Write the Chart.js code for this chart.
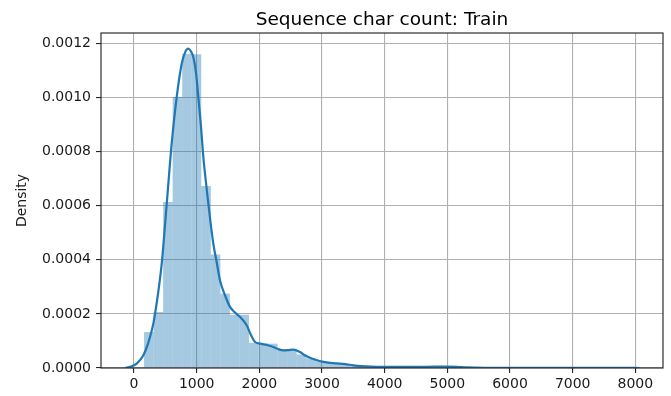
<!DOCTYPE html>
<html>
<head>
<meta charset="utf-8">
<script src="https://cdn.jsdelivr.net/npm/chart.js@4"></script>
<style>
  html, body { margin: 0; padding: 0; background: #ffffff; }
  canvas { display: block; }
</style>
</head>
<body>
<canvas id="c" width="671" height="396"></canvas>
<script>
// ---- data ----
const chartTitle = "Sequence char count: Train";
const yAxisLabel = "Density";

// histogram bin centres (characters)
const binCenters = [
  236.1, 388.3, 540.5, 692.7, 844.9, 997.1, 1149.3, 1301.5, 1453.7, 1605.9,
  1758.1, 1910.3, 2062.5, 2214.7, 2366.9, 2519.1, 2671.3, 2823.5, 2975.7, 3127.9,
  3280.1, 3432.3, 3584.5, 3736.7, 3888.9, 4041.1, 4193.3, 4345.5, 4497.7, 4649.9,
  4802.1, 4954.3, 5106.5, 5258.7, 5410.9, 5563.1, 5715.3, 5867.5, 6019.7, 6171.9,
  6324.1, 6476.3, 6628.5, 6780.7, 6932.9, 7085.1, 7237.3, 7389.5, 7541.7, 7693.9
];
// histogram densities
const binDensity = [
  0.000133, 0.000207, 0.000614, 0.001002, 0.001162, 0.001160, 0.000673, 0.000420, 0.000275, 0.000197,
  0.000197, 0.000093, 0.000092, 0.000090, 0.000070, 0.000064, 0.000050, 0.000036, 0.000025, 0.000020,
  0.000015, 0.000011, 0.000008, 0.000006, 0.000005, 0.000004, 0.000004, 0.000003, 0.000004, 0.000005,
  0.000006, 0.000007, 0.000004, 0.000002, 0.000001, 0.000001, 0.000001, 0.000000, 0.000001, 0.000000,
  0.000001, 0.000000, 0.000000, 0.000001, 0.000000, 0.000000, 0.000001, 0.000000, 0.000000, 0.000001
];

// KDE curve samples
const kdeX = [
  -144, -50, 43, 149, 230, 308, 380, 442, 522, 601,
  681, 761, 820, 867, 910, 946, 990, 1026, 1066, 1106,
  1146, 1186, 1225, 1265, 1320, 1372, 1450, 1532, 1610, 1691,
  1798, 1870, 1931, 2011, 2120, 2223, 2300, 2382, 2460, 2542,
  2649, 2740, 2836, 2960, 3097, 3230, 3367, 3500, 3633, 3780,
  3925, 4200, 4500, 4800, 5000, 5150, 5300, 5600, 6000, 6500,
  7000, 7500, 7800, 8068
];
const kdeY = [
  0.000000, 0.000005, 0.000016, 0.000047, 0.000095, 0.000164, 0.000270, 0.000386, 0.000608, 0.000830,
  0.001002, 0.001125, 0.001170, 0.001181, 0.001170, 0.001150, 0.001090, 0.001002, 0.000900, 0.000780,
  0.000690, 0.000608, 0.000530, 0.000460, 0.000390, 0.000324, 0.000270, 0.000226, 0.000205, 0.000189,
  0.000158, 0.000120, 0.000096, 0.000090, 0.000085, 0.000078, 0.000070, 0.000065, 0.000066, 0.000068,
  0.000059, 0.000045, 0.000035, 0.000026, 0.000020, 0.000017, 0.000014, 0.000010, 0.000007, 0.000005,
  0.000004, 0.000004, 0.000004, 0.000005, 0.000005, 0.000004, 0.000002, 0.000001, 0.000001, 0.000001,
  0.000001, 0.000001, 0.000001, 0.000000
];

const xTickValues = [0, 1000, 2000, 3000, 4000, 5000, 6000, 7000, 8000];
const yTickValues = [0, 0.0002, 0.0004, 0.0006, 0.0008, 0.0010, 0.0012];

// ---- build chart ----
const histPoints = binCenters.map((x, i) => ({ x: x, y: binDensity[i] }));
const kdePoints = kdeX.map((x, i) => ({ x: x, y: kdeY[i] }));

const FONT = "'DejaVu Sans', 'Liberation Sans', sans-serif";
const PLOT = { left: 101, right: 663, top: 33, bottom: 368 };

const framePlugin = {
  id: 'frame',
  afterDraw(chart) {
    const a = chart.chartArea;
    const ctx = chart.ctx;
    ctx.save();
    ctx.strokeStyle = '#262626';
    ctx.lineWidth = 1.15;
    ctx.strokeRect(a.left, a.top, a.right - a.left, a.bottom - a.top);
    ctx.fillStyle = '#000000';
    ctx.font = '18.5px ' + FONT;
    ctx.textAlign = 'center';
    ctx.textBaseline = 'alphabetic';
    ctx.fillText(chartTitle, (a.left + a.right) / 2, 24.5);
    ctx.restore();
  }
};

new Chart(document.getElementById('c'), {
  type: 'bar',
  data: {
    datasets: [
      {
        type: 'line',
        label: 'KDE',
        data: kdePoints,
        borderColor: '#1f77b4',
        borderWidth: 2.2,
        pointRadius: 0,
        fill: false,
        cubicInterpolationMode: 'monotone',
        order: 0
      },
      {
        type: 'bar',
        label: 'hist',
        data: histPoints,
        backgroundColor: 'rgba(31,119,180,0.4)',
        borderWidth: 0,
        inflateAmount: 0,
        barPercentage: 1.0,
        categoryPercentage: 1.0,
        order: 1
      }
    ]
  },
  options: {
    responsive: false,
    animation: false,
    devicePixelRatio: 1,
    layout: { padding: { left: 0, right: 671 - PLOT.right, top: PLOT.top, bottom: 0 } },
    plugins: {
      legend: { display: false },
      tooltip: { enabled: false },
      title: { display: false }
    },
    scales: {
      x: {
        type: 'linear',
        min: -527,
        max: 8441,
        offset: false,
        afterBuildTicks(scale) { scale.ticks = xTickValues.map(v => ({ value: v })); },
        afterFit(scale) { scale.height = 396 - PLOT.bottom; },
        grid: {
          offset: false,
          color: '#b0b0b0',
          lineWidth: 1.1,
          drawTicks: true,
          tickLength: 5,
          tickColor: '#262626',
          tickWidth: 1.1
        },
        border: { display: false },
        ticks: {
          padding: 3,
          maxRotation: 0,
          autoSkip: false,
          color: '#1a1a1a',
          font: { family: FONT, size: 14 },
          callback: (v) => String(v)
        }
      },
      y: {
        type: 'linear',
        min: 0,
        max: 0.001239,
        afterBuildTicks(scale) { scale.ticks = yTickValues.map(v => ({ value: v })); },
        afterFit(scale) { scale.width = PLOT.left; },
        grid: {
          color: '#b0b0b0',
          lineWidth: 1.1,
          drawTicks: true,
          tickLength: 5,
          tickColor: '#262626',
          tickWidth: 1.1
        },
        border: { display: false },
        ticks: {
          padding: 5,
          autoSkip: false,
          color: '#1a1a1a',
          font: { family: FONT, size: 14 },
          callback: (v) => Number(v).toFixed(4)
        },
        title: {
          display: true,
          text: yAxisLabel,
          color: '#1a1a1a',
          font: { family: FONT, size: 14 },
          padding: { top: 14, bottom: 0 }
        }
      }
    }
  },
  plugins: [framePlugin]
});
</script>
</body>
</html>
